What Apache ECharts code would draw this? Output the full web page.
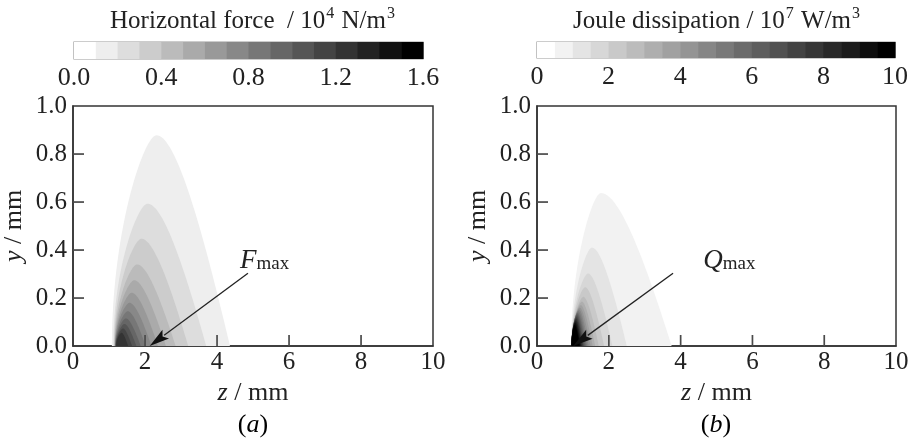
<!DOCTYPE html>
<html><head><meta charset="utf-8">
<script src="https://cdn.jsdelivr.net/npm/echarts@6/dist/echarts.min.js"></script>
<style>html,body{margin:0;padding:0;background:#fff}#c{width:916px;height:442px}</style>
</head><body><div id="c"></div>
<script>
const FONT = 'Liberation Serif';

// ---- colour bars: band edges and tick labels ----
const forceBandEdges = [0.0,0.1,0.2,0.3,0.4,0.5,0.6,0.7,0.8,0.9,1.0,1.1,1.2,1.3,1.4,1.5,1.6];
const jouleBandEdges = [0,0.5,1,1.5,2,2.5,3,3.5,4,4.5,5,5.5,6,6.5,7,7.5,8,8.5,9,9.5,10];
const forceBarTicks = ['0.0','0.4','0.8','1.2','1.6'];
const jouleBarTicks = ['0','2','4','6','8','10'];
const zTicks = ['0','2','4','6','8','10'];
const yTicks = ['0.0','0.2','0.4','0.6','0.8','1.0'];
// inner tick marks (z along bottom, y along left)
const zTickMarks = [2, 4, 6, 8];
const yTickMarks = [0.2, 0.4, 0.6, 0.8];

// ---- (a) horizontal force contours: band index, left foot z, peak z, peak y, right foot z ----
const forceBand  = [1,    2,    3,    4,    5,    6,    7,    8,    9,    10,   11,   12];
const forceFootL = [1.08, 1.12, 1.14, 1.15, 1.16, 1.17, 1.17, 1.18, 1.18, 1.19, 1.19, 1.20];
const forcePeakZ = [2.32, 2.07, 1.90, 1.78, 1.70, 1.63, 1.57, 1.52, 1.47, 1.43, 1.39, 1.35];
const forcePeakY = [0.878,0.593,0.447,0.340,0.274,0.222,0.180,0.145,0.115,0.092,0.073,0.055];
const forceFootR = [4.36, 3.70, 3.20, 2.85, 2.58, 2.36, 2.18, 2.02, 1.88, 1.76, 1.64, 1.53];

// ---- (b) Joule dissipation contours ----
const jouleBand  = [1,    2,    3,    4,    5,    6,    7,    8,    9,    10,   11,   12,   13,   14,   15,   16,   17,   18,   19];
const jouleFootL = [0.95, 0.96, 0.96, 0.96, 0.96, 0.96, 0.96, 0.96, 0.96, 0.96, 0.96, 0.96, 0.96, 0.96, 0.96, 0.96, 0.96, 0.96, 0.96];
const joulePeakZ = [1.78, 1.53, 1.42, 1.34, 1.29, 1.25, 1.22, 1.19, 1.17, 1.15, 1.13, 1.12, 1.11, 1.10, 1.09, 1.08, 1.07, 1.06, 1.05];
const joulePeakY = [0.6375,0.410,0.302,0.245,0.205,0.185,0.170,0.160,0.152,0.145,0.138,0.132,0.126,0.120,0.114,0.108,0.102,0.096,0.088];
const jouleFootR = [3.75, 2.50, 2.10, 1.87, 1.72, 1.62, 1.55, 1.49, 1.44, 1.40, 1.37, 1.34, 1.31, 1.29, 1.27, 1.25, 1.23, 1.21, 1.19];

// ---- annotations: arrow start (z,y), arrow tip (z,y), label anchor (z,y) ----
const forceArrow = [4.86, 0.303, 2.13, 0.0, 4.64, 0.30];
const jouleArrow = [3.79, 0.303, 1.01, 0.0, 4.63, 0.30];

function gray(i, n) { const v = Math.round(255 * (1 - i / (n - 1))); return 'rgb(' + v + ',' + v + ',' + v + ')'; }

function bez(p0, p1, p2, p3, t) {
  const u = 1 - t;
  return [u*u*u*p0[0] + 3*u*u*t*p1[0] + 3*u*t*t*p2[0] + t*t*t*p3[0],
          u*u*u*p0[1] + 3*u*u*t*p1[1] + 3*u*t*t*p2[1] + t*t*t*p3[1]];
}
function contourRender(nLevels) {
  return function (params, api) {
    const zL = api.value(0), zP = api.value(1), yP = api.value(2), zR = api.value(3), band = api.value(4);
    const D = zP - zL, E = zR - zP;
    const P0 = api.coord([zL, 0]), C1 = api.coord([zL, 0.55 * yP]), C2 = api.coord([zP - 0.28 * D, yP]), PP = api.coord([zP, yP]);
    const C3 = api.coord([zP + 0.28 * E, yP]), C4 = api.coord([zR - 0.34 * E, 0.5 * yP]), P3 = api.coord([zR, 0]);
    const pts = [];
    for (let k = 0; k <= 40; k++) pts.push(bez(P0, C1, C2, PP, k / 40));
    for (let k = 1; k <= 40; k++) pts.push(bez(PP, C3, C4, P3, k / 40));
    return { type: 'polygon', shape: { points: pts }, style: { fill: gray(band, nLevels), stroke: null } };
  };
}
function barRender(nLevels) {
  return function (params, api) {
    const a = api.coord([api.value(0), 0]), b = api.coord([api.value(1), 1]);
    return { type: 'rect', shape: { x: a[0], y: b[1], width: b[0] - a[0] + 0.6, height: a[1] - b[1] },
             style: { fill: gray(api.value(2), nLevels) } };
  };
}
function arrowRender(sym) {
  return function (params, api) {
    const s = api.coord([api.value(0), api.value(1)]);
    const t = api.coord([api.value(2), api.value(3)]);
    const l = api.coord([api.value(4), api.value(5)]);
    const dx = t[0] - s[0], dy = t[1] - s[1], L = Math.hypot(dx, dy);
    const ux = dx / L, uy = dy / L, hl = 20, hw = 5.5;
    const bx = t[0] - ux * hl, by = t[1] - uy * hl;
    const children = [];
    // inner tick marks of the frame, drawn as thin filled bars
    zTickMarks.forEach(function (v) {
      const p = api.coord([v, 0]);
      children.push({ type: 'rect', shape: { x: p[0] - 0.8, y: p[1] - 11, width: 1.7, height: 11 }, style: { fill: '#4a4a4a' } });
    });
    yTickMarks.forEach(function (v) {
      const p = api.coord([0, v]);
      children.push({ type: 'rect', shape: { x: p[0], y: p[1] - 0.8, width: 11, height: 1.7 }, style: { fill: '#4a4a4a' } });
    });
    children.push(
      { type: 'line', shape: { x1: s[0], y1: s[1], x2: bx + ux * 2, y2: by + uy * 2 }, style: { stroke: '#222', lineWidth: 1.3 } },
      { type: 'polygon', shape: { points: [[t[0], t[1]], [bx - uy * hw, by + ux * hw], [bx + ux * 4, by + uy * 4], [bx + uy * hw, by - ux * hw]] }, style: { fill: '#111' } },
      { type: 'text', x: l[0], y: l[1], style: { text: '{f|' + sym + '}{s|max}', align: 'left', verticalAlign: 'bottom',
        rich: { f: { fontFamily: FONT, fontStyle: 'italic', fontSize: 27, lineHeight: 26, fill: '#222', verticalAlign: 'bottom' },
                s: { fontFamily: FONT, fontSize: 19, lineHeight: 19, fill: '#222', verticalAlign: 'bottom' } } } }
    );
    return { type: 'group', children: children };
  };
}

const plotGrids = [
  { left: 73, top: 106, width: 360, height: 240 },
  { left: 537, top: 106, width: 359, height: 240 }
];
const barGrids = [
  { left: 74, top: 42, width: 349, height: 17 },
  { left: 537, top: 42, width: 358, height: 16 }
];

const rich = { i: { fontFamily: FONT, fontSize: 26, fontStyle: 'italic', color: '#222' }, n: { fontFamily: FONT, fontSize: 26, color: '#222' } };

function plotX(gi) {
  return { type: 'value', gridIndex: gi, min: 0, max: 10, interval: 2,
    name: '{i|z}{n| / mm}', nameLocation: 'middle', nameGap: 30, nameTextStyle: { rich: rich },
    axisLine: { show: true, lineStyle: { color: '#333', width: 1.5 } },
    axisTick: { show: false },
    splitLine: { show: false },
    axisLabel: { margin: 4, fontFamily: FONT, fontSize: 25, color: '#222', formatter: (v) => zTicks[Math.round(v / 2)] } };
}
function plotY(gi) {
  return { type: 'value', gridIndex: gi, min: 0, max: 1, interval: 0.2,
    name: '{i|y}{n| / mm}', nameLocation: 'middle', nameGap: 46, nameRotate: 90, nameTextStyle: { rich: rich },
    axisLine: { show: true, lineStyle: { color: '#333', width: 1.5 } },
    axisTick: { show: false },
    splitLine: { show: false },
    axisLabel: { margin: 6, fontFamily: FONT, fontSize: 25, color: '#222', formatter: (v) => yTicks[Math.round(v * 5)] } };
}
function barX(gi, max, interval, ticks) {
  return { type: 'value', gridIndex: gi, min: 0, max: max, interval: interval,
    axisLine: { show: false }, axisTick: { show: false }, splitLine: { show: false },
    axisLabel: { margin: 6, fontFamily: FONT, fontSize: 26, color: '#222', formatter: (v) => ticks[Math.round(v / interval)] } };
}
function barY(gi) { return { type: 'value', gridIndex: gi, min: 0, max: 1, show: false }; }

const titleRich = {
  a: { fontFamily: FONT, fontSize: 25, lineHeight: 28, fill: '#222', verticalAlign: 'bottom' },
  s: { fontFamily: FONT, fontSize: 16, lineHeight: 28, fill: '#222', verticalAlign: 'top', padding: [0, 1, 0, 1] }
};

const option = {
  animation: false,
  backgroundColor: '#fff',
  textStyle: { fontFamily: FONT },
  grid: [
    Object.assign({ show: true, borderColor: '#333', borderWidth: 1.5 }, plotGrids[0]),
    Object.assign({ show: true, borderColor: '#333', borderWidth: 1.5 }, plotGrids[1]),
    Object.assign({ show: true, borderColor: '#9a9a9a', borderWidth: 1.2 }, barGrids[0]),
    Object.assign({ show: true, borderColor: '#9a9a9a', borderWidth: 1.2 }, barGrids[1])
  ],
  xAxis: [plotX(0), plotX(1), barX(2, 1.6, 0.4, forceBarTicks), barX(3, 10, 2, jouleBarTicks)],
  yAxis: [plotY(0), plotY(1), barY(2), barY(3)],
  graphic: [
    { type: 'text', x: 253, y: 20, style: { text: '{a|Horizontal force  / 10}{s|4}{a| N/m}{s|3}', align: 'center', verticalAlign: 'middle', rich: titleRich } },
    { type: 'text', x: 717, y: 20, style: { text: '{a|Joule dissipation / 10}{s|7}{a| W/m}{s|3}', align: 'center', verticalAlign: 'middle', rich: titleRich } },
    { type: 'text', x: 253, y: 425, style: { text: '{n|(}{i|a}{n|)}', align: 'center', verticalAlign: 'middle', rich: rich } },
    { type: 'text', x: 716, y: 425, style: { text: '{n|(}{i|b}{n|)}', align: 'center', verticalAlign: 'middle', rich: rich } }
  ],
  series: [
    { type: 'custom', xAxisIndex: 0, yAxisIndex: 0, clip: true, silent: true, z: 1,
      renderItem: contourRender(16),
      data: forceBand.map((b, i) => [forceFootL[i], forcePeakZ[i], forcePeakY[i], forceFootR[i], b]) },
    { type: 'custom', xAxisIndex: 1, yAxisIndex: 1, clip: true, silent: true, z: 1,
      renderItem: contourRender(20),
      data: jouleBand.map((b, i) => [jouleFootL[i], joulePeakZ[i], joulePeakY[i], jouleFootR[i], b]) },
    { type: 'custom', xAxisIndex: 2, yAxisIndex: 2, silent: true,
      renderItem: barRender(16),
      data: forceBandEdges.slice(0, -1).map((v, i) => [v, forceBandEdges[i + 1], i]) },
    { type: 'custom', xAxisIndex: 3, yAxisIndex: 3, silent: true,
      renderItem: barRender(20),
      data: jouleBandEdges.slice(0, -1).map((v, i) => [v, jouleBandEdges[i + 1], i]) },
    { type: 'custom', xAxisIndex: 0, yAxisIndex: 0, silent: true, z: 5,
      renderItem: arrowRender('F'), data: [forceArrow] },
    { type: 'custom', xAxisIndex: 1, yAxisIndex: 1, silent: true, z: 5,
      renderItem: arrowRender('Q'), data: [jouleArrow] }
  ]
};
const chart = echarts.init(document.getElementById('c'), null, { renderer: 'canvas' });
chart.setOption(option);
</script></body></html>
